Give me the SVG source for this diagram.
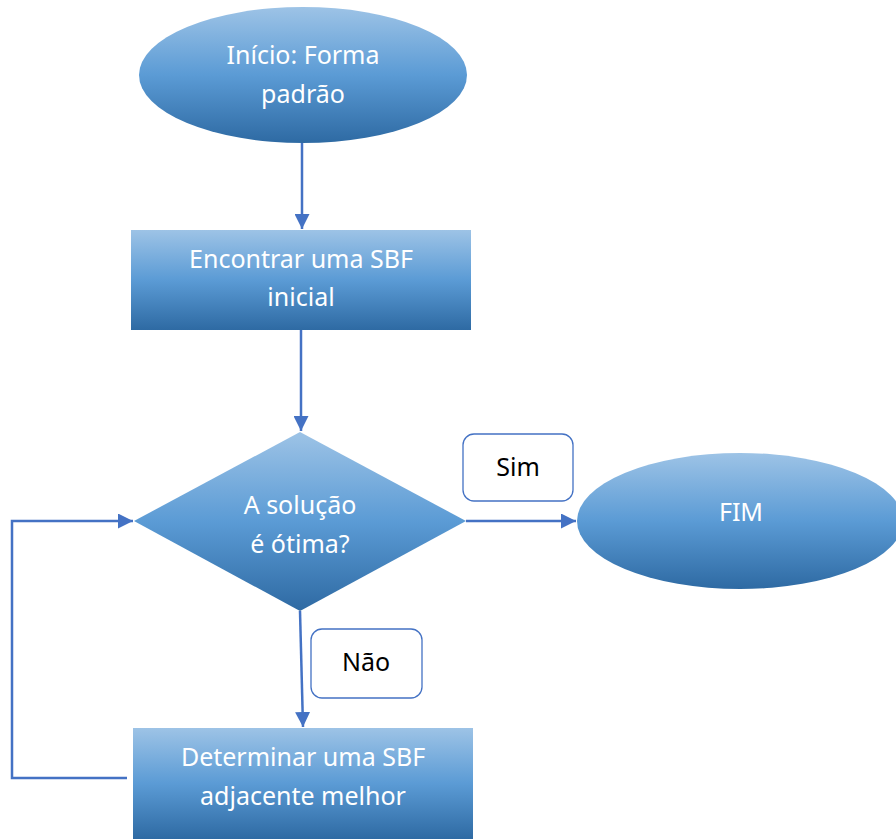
<svg xmlns="http://www.w3.org/2000/svg" width="896" height="839" viewBox="0 0 896 839">
  <style>
    .lbl { font-family: "Noto Sans", "Open Sans", "Liberation Sans", sans-serif; font-size: 25px; fill: #ffffff; text-anchor: middle; }
    .tag { font-family: "Noto Sans", "Open Sans", "Liberation Sans", sans-serif; font-size: 25px; fill: #000000; text-anchor: middle; }
    .shape { fill: url(#blueGrad); }
    .box { fill: #ffffff; stroke: #4472c4; stroke-width: 1.3; }
    .wire { fill: none; stroke: #4472c4; stroke-width: 2.5; }
  </style>
  <defs>
    <linearGradient id="blueGrad" x1="0" y1="0" x2="0" y2="1">
      <stop offset="0" stop-color="#9dc3e6"/>
      <stop offset="0.5" stop-color="#5b9bd5"/>
      <stop offset="1" stop-color="#2e6aa3"/>
    </linearGradient>
    <marker id="arrow" viewBox="0 0 10 10" refX="10" refY="5" markerWidth="6" markerHeight="6" markerUnits="strokeWidth" orient="auto">
      <path d="M0,0 L10,5 L0,10 z" fill="#4472c4"/>
    </marker>
  </defs>
  <rect width="896" height="839" fill="#ffffff"/>

  <g id="connectors">
    <line class="wire" x1="302" y1="143" x2="302" y2="229" marker-end="url(#arrow)"/>
    <line class="wire" x1="301" y1="330" x2="301" y2="431" marker-end="url(#arrow)"/>
    <line class="wire" x1="466" y1="521" x2="576" y2="521" marker-end="url(#arrow)"/>
    <line class="wire" x1="300" y1="611" x2="303" y2="727" marker-end="url(#arrow)"/>
    <polyline class="wire" points="127,778 12,778 12,521 133,521" marker-end="url(#arrow)"/>
  </g>

  <g id="start">
    <ellipse class="shape" cx="303" cy="75" rx="164" ry="68"/>
    <text class="lbl" x="303" y="64">Início: Forma</text>
    <text class="lbl" x="303" y="103">padrão</text>
  </g>

  <g id="initial-sbf">
    <rect class="shape" x="131" y="230" width="340" height="100"/>
    <text class="lbl" x="301" y="268">Encontrar uma SBF</text>
    <text class="lbl" x="301" y="306">inicial</text>
  </g>

  <g id="decision">
    <polygon class="shape" points="300,432 466,521 300,611 134,521"/>
    <text class="lbl" x="300" y="514">A solução</text>
    <text class="lbl" x="300" y="553">é ótima?</text>
  </g>

  <g id="end">
    <ellipse class="shape" cx="740" cy="521" rx="163" ry="68"/>
    <text class="lbl" x="741" y="521">FIM</text>
  </g>

  <g id="adjacent-sbf">
    <rect class="shape" x="133" y="728" width="340" height="111"/>
    <text class="lbl" x="303" y="766">Determinar uma SBF</text>
    <text class="lbl" x="303" y="805">adjacente melhor</text>
  </g>

  <g id="label-sim">
    <rect class="box" x="463" y="434" width="110" height="67" rx="11"/>
    <text class="tag" x="518" y="476">Sim</text>
  </g>

  <g id="label-nao">
    <rect class="box" x="311" y="629" width="111" height="69" rx="11"/>
    <text class="tag" x="366" y="671">Não</text>
  </g>
</svg>
